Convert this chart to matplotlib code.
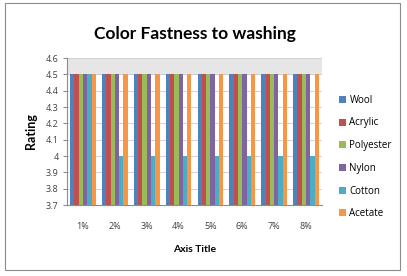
import matplotlib
matplotlib.use("Agg")
import matplotlib.pyplot as plt
import numpy as np
from matplotlib.patches import Rectangle

categories = ["1%", "2%", "3%", "4%", "5%", "6%", "7%", "8%"]
series_names = ["Wool", "Acrylic", "Polyester", "Nylon", "Cotton", "Acetate"]
wool = [4.5, 4.5, 4.5, 4.5, 4.5, 4.5, 4.5, 4.5]
acrylic = [4.5, 4.5, 4.5, 4.5, 4.5, 4.5, 4.5, 4.5]
polyester = [4.5, 4.5, 4.5, 4.5, 4.5, 4.5, 4.5, 4.5]
nylon = [4.5, 4.5, 4.5, 4.5, 4.5, 4.5, 4.5, 4.5]
cotton = [4.5, 4.0, 4.0, 4.0, 4.0, 4.0, 4.0, 4.0]
acetate = [4.5, 4.5, 4.5, 4.5, 4.5, 4.5, 4.5, 4.5]
yticks = [3.7, 3.8, 3.9, 4.0, 4.1, 4.2, 4.3, 4.4, 4.5, 4.6]
ytick_labels = ["3.7", "3.8", "3.9", "4", "4.1", "4.2", "4.3", "4.4", "4.5", "4.6"]

colors = ["#4F81BD", "#C0504D", "#9BBB59", "#8064A2", "#4BACC6", "#F79646"]
data = [wool, acrylic, polyester, nylon, cotton, acetate]

plt.rcParams['font.family'] = ['Open Sans', 'DejaVu Sans']
fig = plt.figure(figsize=(4.07, 2.76), dpi=100)
fig.patches.append(Rectangle((5/407, 1 - 270/276), 395/407, 267/276, transform=fig.transFigure,
                             fill=False, edgecolor="#8c8c8c", linewidth=0.8))

ax = fig.add_axes([67/407, 1 - 205/276, 255/407, 147/276])
ymin = 3.7
x = np.arange(len(categories))
w = 0.135
ax.axhspan(4.5, 4.6, color="#e6e6e6", zorder=0)
for i, (name, vals, c) in enumerate(zip(series_names, data, colors)):
    heights = np.array(vals) - ymin
    ax.bar(x + (i - 2.5) * w, heights, w, bottom=ymin, color=c, label=name, zorder=3)

ax.set_xlim(-0.5, len(categories) - 0.5)
ax.set_ylim(3.7, 4.6)
ax.set_yticks(yticks)
ax.set_yticklabels(ytick_labels, fontsize=6.5, color="#404040")
ax.set_xticks(x)
ax.set_xticklabels(categories, fontsize=6.5, color="#404040")
ax.tick_params(axis="x", length=0, pad=12)
ax.tick_params(axis="y", length=3, color="#8c8c8c", pad=3)
ax.yaxis.grid(True, color="#cccccc", linewidth=0.6, zorder=1)
ax.set_axisbelow(True)
for s in ["top", "right"]:
    ax.spines[s].set_visible(False)
ax.spines["left"].set_color("#8c8c8c")
ax.spines["bottom"].set_color("#8c8c8c")
ax.set_ylabel("Rating", fontsize=9, fontweight="bold", family=["Lato", "DejaVu Sans"], labelpad=6)
ax.set_xlabel("Axis Title", fontsize=7.5, fontweight="bold", family=["Lato", "DejaVu Sans"], labelpad=10)
ax.set_title("Color Fastness to washing", fontsize=12.5, fontweight="bold",
             family=["Lato", "DejaVu Sans"], pad=14)

ax.legend(loc="center left", bbox_to_anchor=(330/407, 1 - 157/276), bbox_transform=fig.transFigure,
          frameon=False, fontsize=7, handlelength=0.7, handleheight=0.7,
          labelspacing=1.2, handletextpad=0.4)

fig.savefig("out.png", dpi=100)
